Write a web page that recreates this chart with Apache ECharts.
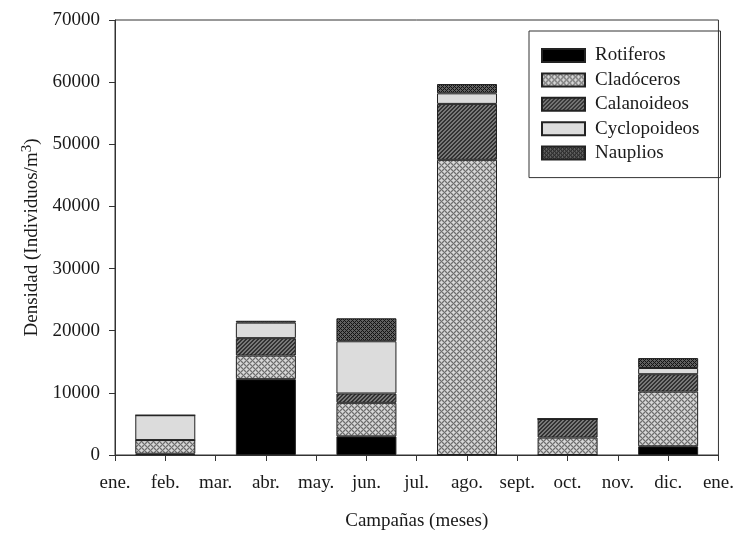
<!DOCTYPE html>
<html>
<head>
<meta charset="utf-8">
<script src="https://cdn.jsdelivr.net/npm/echarts@6/dist/echarts.min.js"></script>
<style>
  html, body { margin: 0; padding: 0; background: #fff; overflow: hidden; }
  #chart { width: 737px; height: 536px; }
</style>
</head>
<body>
<div id="chart"></div>
<script>
// Sampling campaigns (bars) and the month labels along the bottom axis
const campaigns = ['feb.', 'abr.', 'jun.', 'ago.', 'oct.', 'dic.'];
const monthLabels = ['ene.', 'feb.', 'mar.', 'abr.', 'may.', 'jun.', 'jul.', 'ago.', 'sept.', 'oct.', 'nov.', 'dic.', 'ene.'];

// Density per group (individuos/m3), one value per campaign
const rotiferos    = [200, 12200, 3000, 0, 0, 1400];
const cladoceros   = [2200, 3800, 5400, 47500, 2800, 8800];
const calanoideos  = [0, 2800, 1500, 9000, 3000, 2800];
const cyclopoideos = [4000, 2500, 8400, 1700, 0, 1000];
const nauplios     = [0, 300, 3700, 1500, 0, 1600];

// Build small tiling canvases used as fill patterns
function makePattern(size, painter) {
  const c = document.createElement('canvas');
  c.width = size; c.height = size;
  const ctx = c.getContext('2d');
  const img = ctx.createImageData(size, size);
  for (let y = 0; y < size; y++) {
    for (let x = 0; x < size; x++) {
      const v = painter(x, y);
      const i = (y * size + x) * 4;
      img.data[i] = v; img.data[i + 1] = v; img.data[i + 2] = v; img.data[i + 3] = 255;
    }
  }
  ctx.putImageData(img, 0, 0);
  return { image: c, repeat: 'repeat' };
}

// light cross-hatch
const crossLight = makePattern(6, (x, y) => {
  const a = (x + y) % 6, b = ((x - y) % 6 + 6) % 6;
  if (a === 0 || b === 0) return 110;
  if (a === 1 || b === 1 || a === 5 || b === 5) return 170;
  return 215;
});
// diagonal stripes
const stripes = makePattern(4, (x, y) => {
  const a = (x + y) % 4;
  return a < 2 ? 50 : 120;
});
// dark cross-hatch
const crossDark = makePattern(4, (x, y) => {
  const a = (x + y) % 4, b = ((x - y) % 4 + 4) % 4;
  if (a === 0 || b === 0) return 20;
  return 95;
});

const groups = [
  { name: 'Rotiferos', data: rotiferos, color: '#000000' },
  { name: 'Cladóceros', data: cladoceros, color: crossLight },
  { name: 'Calanoideos', data: calanoideos, color: stripes },
  { name: 'Cyclopoideos', data: cyclopoideos, color: '#dcdcdc' },
  { name: 'Nauplios', data: nauplios, color: crossDark }
];

const serif = 'Liberation Serif, Times New Roman, serif';
const axisColor = '#333';
const textColor = '#1a1a1a';
const fs = 19;

const chart = echarts.init(document.getElementById('chart'));
chart.setOption({
  animation: false,
  backgroundColor: '#fff',
  textStyle: { fontFamily: serif },
  grid: {
    left: 115, right: 10, top: 20, bottom: 74,
    show: true, borderColor: axisColor, borderWidth: 1
  },
  legend: {
    orient: 'vertical',
    left: 529, top: 31,
    padding: [15, 21, 15, 12],
    itemWidth: 43, itemHeight: 13, itemGap: 5.4,
    borderColor: axisColor, borderWidth: 1,
    icon: 'rect',
    textStyle: { fontFamily: serif, fontSize: fs, lineHeight: 19, color: textColor, padding: [0, 0, 0, 5] },
    data: groups.map(g => g.name)
  },
  xAxis: [
    {
      type: 'category', data: campaigns, show: false
    },
    {
      type: 'value', min: 0, max: 12, interval: 1, position: 'bottom',
      name: 'Campañas (meses)', nameLocation: 'middle', nameGap: 57,
      nameTextStyle: { fontFamily: serif, fontSize: fs, color: textColor },
      axisLine: { show: true, lineStyle: { color: axisColor, width: 1 } },
      axisTick: { show: true, inside: false, length: 6, lineStyle: { color: axisColor } },
      axisLabel: {
        margin: 19, fontFamily: serif, fontSize: fs, color: textColor,
        formatter: v => monthLabels[Math.round(v)]
      },
      splitLine: { show: false }
    }
  ],
  yAxis: {
    type: 'value', min: 0, max: 70000, interval: 10000,
    name: 'Densidad (Individuos/m{sup|3})', nameLocation: 'middle', nameGap: 70,
    nameTextStyle: {
      fontFamily: serif, fontSize: fs, color: textColor,
      rich: { sup: { fontFamily: serif, fontSize: 15, color: textColor, padding: [0, 0, 10, 0] } }
    },
    axisLine: { show: true, lineStyle: { color: axisColor, width: 1 } },
    axisTick: { show: true, inside: false, length: 6, lineStyle: { color: axisColor } },
    axisLabel: { margin: 15, fontFamily: serif, fontSize: fs, color: textColor, formatter: v => String(v) },
    splitLine: { show: false }
  },
  series: groups.map(g => ({
    name: g.name,
    type: 'bar',
    stack: 'total',
    xAxisIndex: 0,
    barWidth: 60,
    data: g.data,
    itemStyle: { color: g.color, borderColor: '#222', borderWidth: 1 }
  }))
});
</script>
</body>
</html>
